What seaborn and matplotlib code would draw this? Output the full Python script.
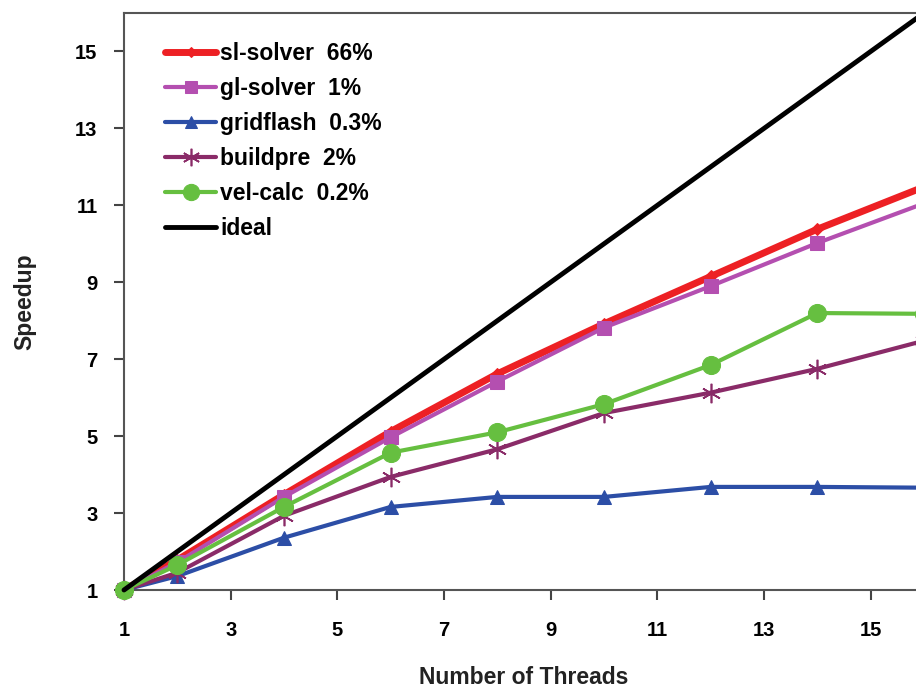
import numpy as np
import pandas as pd
import seaborn as sns
import matplotlib
matplotlib.use('Agg')
import matplotlib.pyplot as plt

sns.set_style('white')
plt.rcParams['font.family'] = ['Liberation Sans', 'DejaVu Sans']
plt.rcParams['font.weight'] = 'bold'
plt.rcParams['text.color'] = 'black'

threads = [1, 2, 4, 6, 8, 10, 12, 14, 16]
sl_solver = [1, 1.78, 3.48, 5.12, 6.62, 7.92, 9.15, 10.38, 11.48]
gl_solver = [1, 1.72, 3.42, 4.97, 6.42, 7.82, 8.9, 10.02, 11.05]
gridflash = [1, 1.36, 2.36, 3.16, 3.42, 3.42, 3.68, 3.68, 3.66]
buildpre = [1, 1.45, 2.93, 3.94, 4.66, 5.6, 6.13, 6.75, 7.48]
vel_calc = [1, 1.65, 3.16, 4.57, 5.1, 5.83, 6.85, 8.2, 8.18]
ideal = [1, 2, 4, 6, 8, 10, 12, 14, 16]

names = ['sl-solver  66%', 'gl-solver  1%', 'gridflash  0.3%',
         'buildpre  2%', 'vel-calc  0.2%', 'ideal']
series = [sl_solver, gl_solver, gridflash, buildpre, vel_calc, ideal]
colors = ['#ED2024', '#B44FB0', '#2C4EA6', '#8A2B68', '#66BF40', '#000000']
markers = ['D', 's', '^', (6, 2, 0), 'o', None]
msizes = [6, 10, 10, 14, 13, 0]
lwidths = [5, 3, 3, 3, 3, 3.5]
zorders = [3, 4, 3, 3, 5, 6]

df = pd.DataFrame({
    'threads': threads * len(names),
    'speedup': sum(series, []),
    'kernel': [n for n in names for _ in threads],
})

fig = plt.figure(figsize=(9.16, 6.88), dpi=100)
ax = fig.add_axes([124 / 916, 98 / 688, 800 / 916, 577 / 688])

for name, c, m, ms, lw, z in zip(names, colors, markers, msizes, lwidths, zorders):
    sub = df[df['kernel'] == name]
    kw = dict(marker=m, markersize=ms, markeredgecolor=c, markerfacecolor=c) if m else {}
    if m == (6, 2, 0):
        kw['markeredgewidth'] = 1.2
    sns.lineplot(data=sub, x='threads', y='speedup', ax=ax, color=c,
                 linewidth=lw, label=name, zorder=z, clip_on=False, **kw)

ax.set_xlim(1, 16)
ax.set_ylim(1, 16)
ax.set_xticks(range(1, 17, 2))
ax.set_yticks(range(1, 17, 2))
ax.tick_params(axis='both', direction='out', length=7, width=1.5,
               labelsize=14.5, bottom=True, left=True, colors='#444444',
               labelcolor='black')
ax.tick_params(axis='x', pad=15)
ax.tick_params(axis='y', pad=12)
for sp in ['left', 'bottom', 'top']:
    ax.spines[sp].set_color('#555555')
    ax.spines[sp].set_linewidth(1.5)
    ax.spines[sp].set_zorder(1)
ax.spines['right'].set_visible(False)

ax.set_xlabel('Number of Threads', fontsize=16.5, fontweight='bold',
              color='#222222', labelpad=19)
ax.set_ylabel('Speedup', fontsize=16.5, fontweight='bold',
              color='#222222', labelpad=28)

leg = ax.legend(loc='upper left', bbox_to_anchor=(0.026, 0.985), frameon=False,
                fontsize=16.5, handlelength=2.2, handletextpad=0.2,
                labelspacing=0.52, markerscale=0.9)
for t in leg.get_texts():
    t.set_fontweight('bold')
    t.set_color('black')

fig.savefig('out.png', dpi=100)
